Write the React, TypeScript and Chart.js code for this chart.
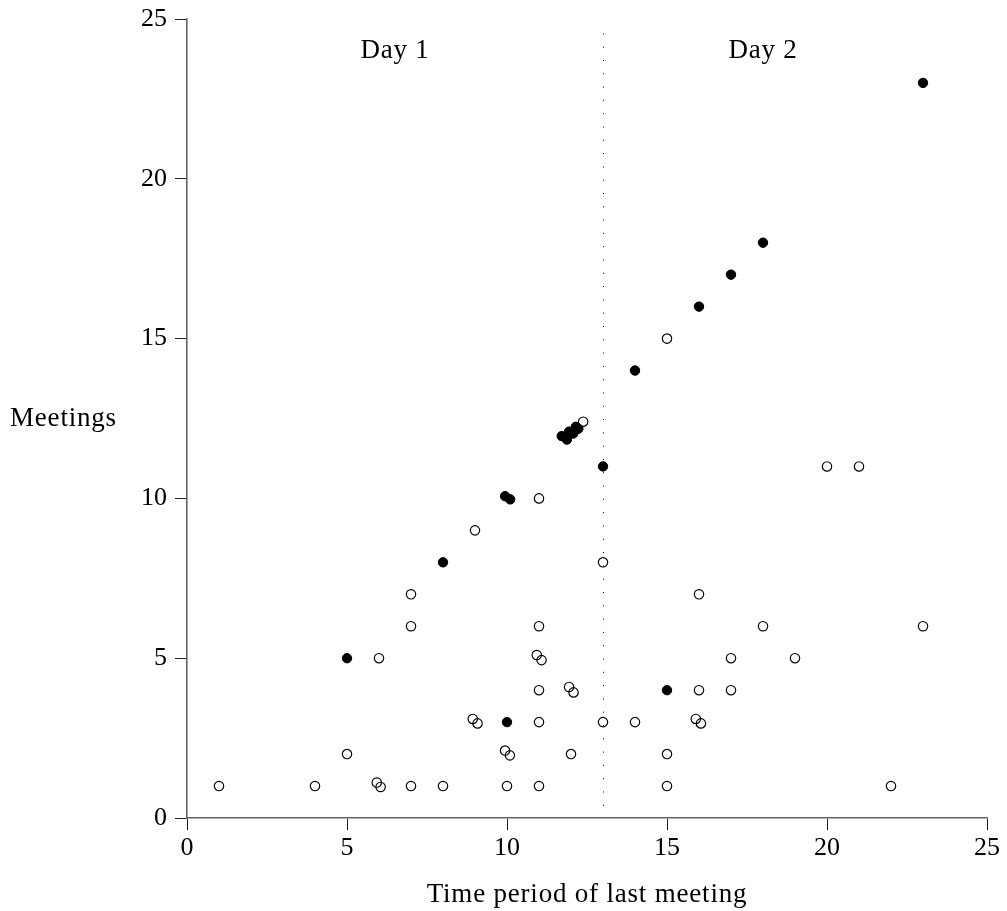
import React, { useEffect, useRef } from "react";
import { Chart, registerables } from "chart.js";

Chart.register(...registerables);

// Filled points (x = time period of last meeting, y = meetings)
const filledX = [5, 8, 9.94, 10.1, 11.71, 11.87, 11.94, 12.07, 12.15, 12.23, 13, 14, 16, 17, 18, 23, 10, 15];
const filledY = [5, 8, 10.07, 9.97, 11.95, 11.84, 12.09, 12.03, 12.24, 12.18, 11, 14, 16, 17, 18, 23, 3, 4];

// Open points
const openX = [1, 4, 5, 5.93, 6.05, 6, 7, 7, 7, 8, 8.93, 9.08, 9, 10, 9.94, 10.09, 11, 11, 11, 10.93, 11.08, 11, 11, 12, 11.94, 12.08, 12.38, 13, 13, 14, 15, 15, 15, 15.9, 16.06, 16, 16, 17, 17, 18, 19, 20, 21, 22, 23];
const openY = [1, 1, 2, 1.11, 0.97, 5, 1, 6, 7, 1, 3.1, 2.96, 9, 1, 2.11, 1.96, 1, 3, 4, 5.1, 4.94, 6, 10, 2, 4.1, 3.93, 12.4, 3, 8, 3, 1, 2, 15, 3.1, 2.96, 4, 7, 4, 5, 6, 5, 11, 11, 1, 6];

const xTicks = [0, 5, 10, 15, 20, 25];
const yTicks = [0, 5, 10, 15, 20, 25];

const dayBoundary = 13;
const dayLabels = ["Day 1", "Day 2"];
const dayLabelX = [6.5, 18];
const dayLabelY = 24.0;
const dottedTop = 24.55;

const xTitle = "Time period of last meeting";
const yTitle = "Meetings";

const FONT = "'Liberation Serif', 'Times New Roman', serif";

const annotations = {
  id: "annotations",
  beforeDatasetsDraw(chart: any) {
    const { ctx, scales } = chart;
    const xs = scales.x;
    const ys = scales.y;
    ctx.save();
    // dotted day boundary
    ctx.strokeStyle = "#000";
    ctx.lineWidth = 1;
    ctx.setLineDash([1, 12.3]);
    const px = Math.round(xs.getPixelForValue(dayBoundary)) + 0.5;
    ctx.beginPath();
    ctx.moveTo(px, ys.getPixelForValue(dottedTop));
    ctx.lineTo(px, ys.getPixelForValue(0));
    ctx.stroke();
    ctx.setLineDash([]);
    // text
    ctx.fillStyle = "#000";
    ctx.font = `27px ${FONT}`;
    try {
      (ctx as any).letterSpacing = "0.8px";
    } catch (e) {}
    ctx.textAlign = "center";
    ctx.textBaseline = "middle";
    dayLabels.forEach((t, i) => {
      ctx.fillText(t, xs.getPixelForValue(dayLabelX[i]), ys.getPixelForValue(dayLabelY));
    });
    // x title
    ctx.textBaseline = "alphabetic";
    ctx.fillText(xTitle, (xs.left + xs.right) / 2, 902);
    // horizontal y title
    ctx.textAlign = "left";
    ctx.textBaseline = "middle";
    ctx.fillText(yTitle, 10, ys.getPixelForValue(12.5));
    ctx.restore();
  },
};

export default function App() {
  const ref = useRef<HTMLCanvasElement | null>(null);
  useEffect(() => {
    document.body.style.margin = "0";
    const canvas = ref.current;
    if (!canvas) return;
    const chart = new Chart(canvas, {
      type: "scatter",
      data: {
        datasets: [
          {
            label: "open",
            data: openX.map((x, i) => ({ x, y: openY[i] })),
            pointRadius: 4.7,
            pointBorderWidth: 1.15,
            pointBorderColor: "#000",
            pointBackgroundColor: "rgba(255,255,255,0)",
          },
          {
            label: "filled",
            data: filledX.map((x, i) => ({ x, y: filledY[i] })),
            pointRadius: 4.7,
            pointBorderWidth: 1,
            pointBorderColor: "#000",
            pointBackgroundColor: "#000",
          },
        ],
      },
      options: {
        animation: false,
        responsive: false,
        layout: { padding: { top: 19, right: 20, left: 0, bottom: 0 } },
        plugins: {
          legend: { display: false },
          tooltip: { enabled: false },
        },
        scales: {
          x: {
            type: "linear",
            min: 0,
            max: 25,
            afterBuildTicks: (s: any) => {
              s.ticks = xTicks.map((v) => ({ value: v }));
            },
            afterFit: (s: any) => {
              s.height = 93;
              s.paddingLeft = 0;
              s.paddingRight = 0;
            },
            grid: { drawOnChartArea: false, tickLength: 12, color: "#222", lineWidth: 1 },
            border: { display: true, color: "#666", width: 1.6 },
            ticks: { color: "#000", font: { family: FONT, size: 26 }, padding: 3, maxRotation: 0 },
          },
          y: {
            type: "linear",
            min: 0,
            max: 25,
            afterBuildTicks: (s: any) => {
              s.ticks = yTicks.map((v) => ({ value: v }));
            },
            afterFit: (s: any) => {
              s.width = 187;
              s.paddingTop = 0;
              s.paddingBottom = 0;
            },
            grid: { drawOnChartArea: false, tickLength: 12, color: "#222", lineWidth: 1 },
            border: { display: true, color: "#666", width: 1.6 },
            ticks: { color: "#000", font: { family: FONT, size: 26 }, padding: 8 },
          },
        },
      },
      plugins: [annotations],
    });
    return () => chart.destroy();
  }, []);
  return (
    <div style={{ width: 1007, height: 911 }}>
      <canvas ref={ref} width={1007} height={911} style={{ display: "block" }} />
    </div>
  );
}
